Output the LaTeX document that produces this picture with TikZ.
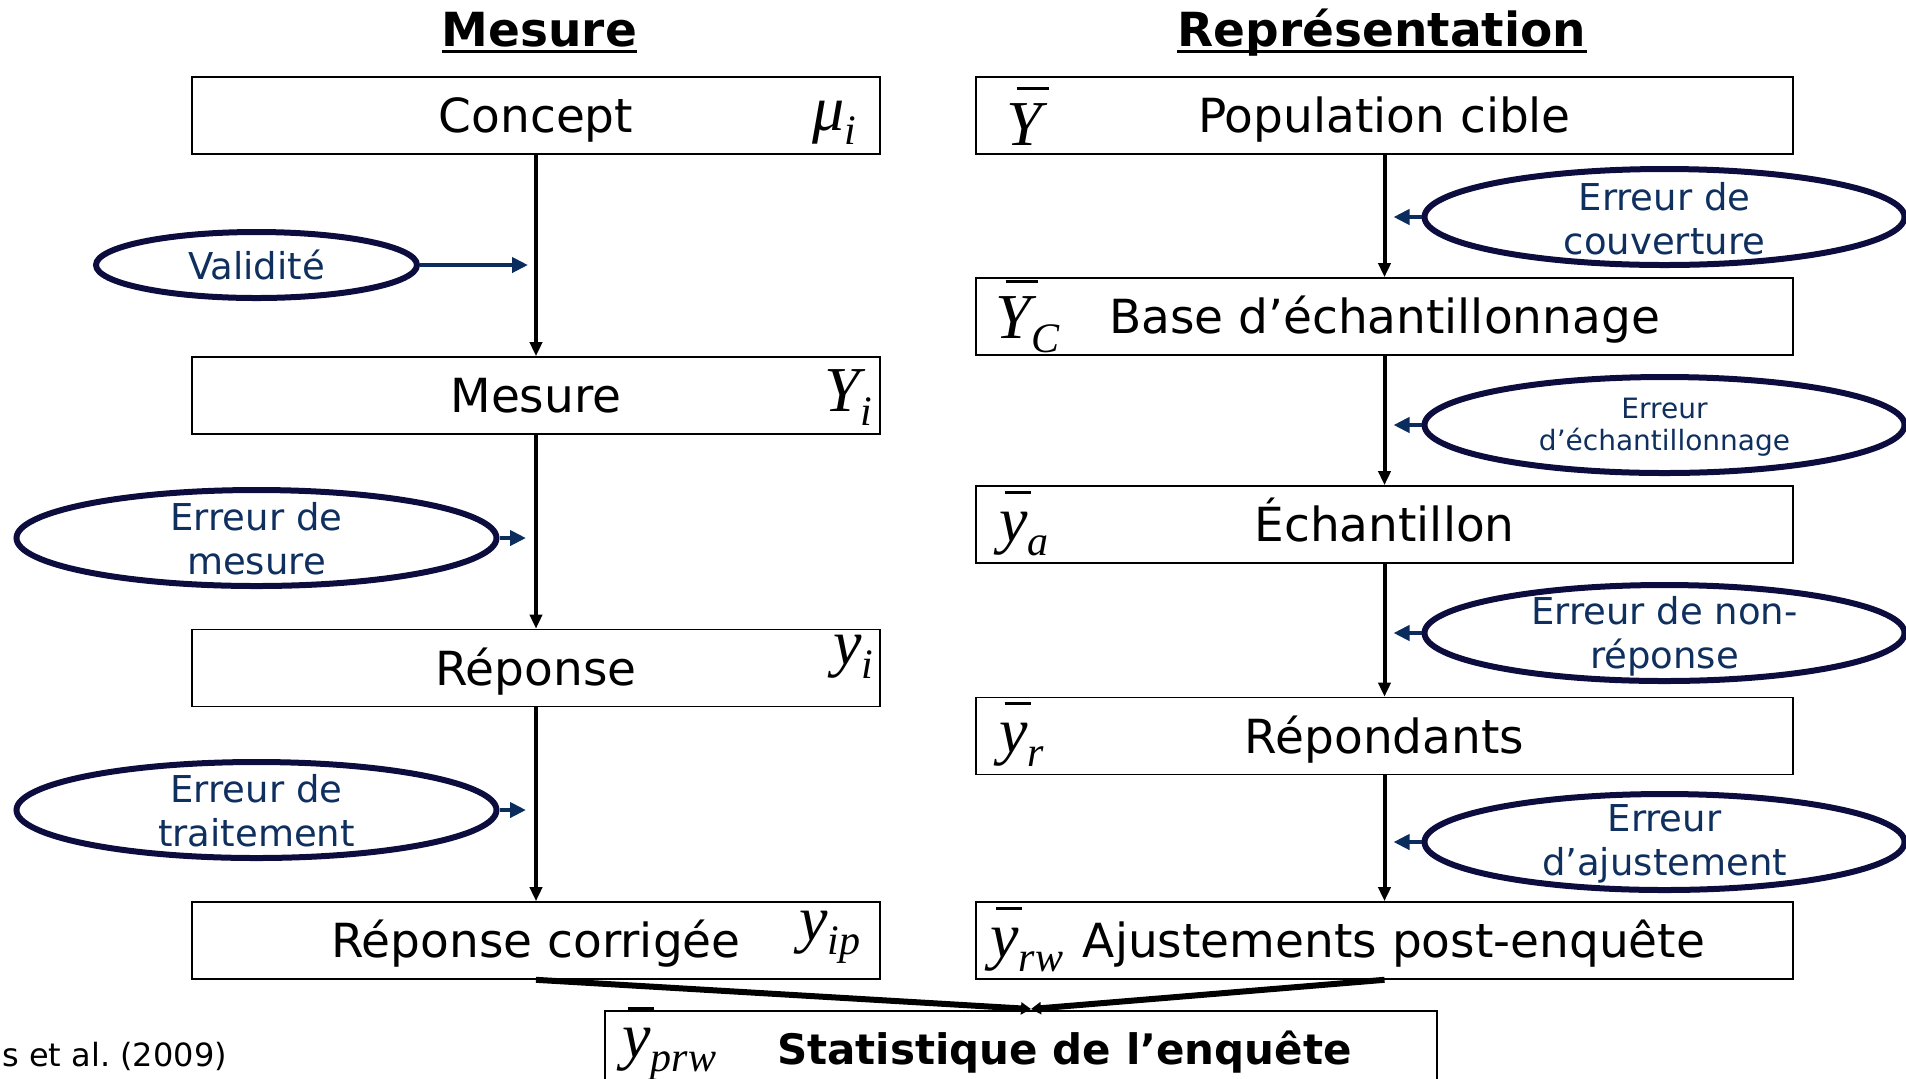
\documentclass[tikz,border=0pt]{standalone}
\usepackage{fontspec}
\setmainfont{DejaVu Sans}
\newfontfamily\symfont{Liberation Serif}
\usetikzlibrary{shapes.geometric,arrows.meta}

\definecolor{ellline}{HTML}{0C0C3E}
\definecolor{elltext}{HTML}{0F2F5F}
\definecolor{errarrow}{HTML}{0A2D5E}

% sizes for the statistical symbols
\newcommand\symsz{\fontsize{32}{32}\selectfont}
\newcommand\subsz{\fontsize{21}{21}\selectfont}
% italic letter followed by a lowered index
\newcommand\ix[2]{{\symfont\itshape\symsz #1\raisebox{-7pt}{\subsz #2}}}
% letters carrying a mean bar
\newcommand\ovY{\rlap{\kern0.16em\rule[0.86em]{0.5em}{0.045em}}Y}
\newcommand\ovy{\rlap{\kern0.08em\rule[0.74em]{0.42em}{0.045em}}y}

\begin{document}
\begin{tikzpicture}[x=0.5pt,y=-0.5pt,
  box/.style={draw=black, line width=0.8pt, minimum height=38.5pt, inner sep=0pt,
              text height=17.2pt, text depth=0pt,
              font=\fontsize{23.5}{28}\selectfont},
  lbox/.style={box, minimum width=344pt},
  rbox/.style={box, minimum width=408.5pt},
  plain/.style={inner sep=0pt, text height=17.2pt, text depth=0pt, font=\fontsize{23.5}{28}\selectfont},
  sym/.style={inner sep=0pt, anchor=base west},
  err/.style={ellipse, draw=ellline, line width=3pt, inner sep=0pt},
  bigerr/.style={err, minimum width=240pt, minimum height=48pt},
  errtxt/.style={text=elltext, align=center, inner sep=0pt, font=\fontsize{18.5}{22}\selectfont},
  flow/.style={line width=2pt, -{Triangle[length=7pt,width=6pt]}},
  push/.style={draw=errarrow, line width=2.2pt, -{Triangle[length=8pt,width=7.5pt]}},
  heading/.style={inner sep=0pt, anchor=base, font=\fontsize{23.5}{28}\selectfont\bfseries}]
\useasboundingbox (0,0) rectangle (1906,1078);

% column headings
\node[heading] (tmes) at (539.5,46) {Mesure};
\node[heading] (trep) at (1382,46) {Représentation};
\draw[line width=1.6pt] ([yshift=-2.8pt]tmes.base west) -- ([yshift=-2.8pt]tmes.base east);
\draw[line width=1.6pt] ([yshift=-2.8pt]trep.base west) -- ([yshift=-2.8pt]trep.base east);

% measurement column
\node[lbox] (concept) at (536,115.5) {Concept};
\node[lbox] (mesure)  at (536,395.5) {Mesure};
\node[lbox] (reponse) at (536,668)   {Réponse};
\node[lbox] (corr)    at (536,940.5) {Réponse corrigée};
\node[sym] (mu)  at (812,130) {\ix{μ}{i}};
\node[sym] (Yi)  at (824,411) {\ix{Y}{i}};
\node[sym] (yi)  at (833,664) {\ix{y}{i}};
\node[sym] (yip) at (799,940) {\ix{y}{ip}};

% representation column
\node[rbox] (pop)   at (1384.5,115.5) {Population cible};
\node[rbox] (base)  at (1384.5,316.5) {Base d’échantillonnage};
\node[rbox] (ech)   at (1384.5,524.5) {Échantillon};
\node[rbox] (resp)  at (1384.5,736)   {Répondants};
\node[rbox] (ajust) at (1384.5,940.5) {};
\node[plain] (ajusttxt) at (1394,940.5) {Ajustements post-enquête};
\node[sym] (Ybar) at (1006,145) {\ix{\ovY}{}};
\node[sym] (YC)   at (995,338)  {\ix{\ovY}{C}};
\node[sym] (ya)   at (999,541)  {\ix{\ovy}{a}};
\node[sym] (yr)   at (999,752)  {\ix{\ovy}{r}};
\node[sym] (yrw)  at (990,957)  {\ix{\ovy}{rw}};

% final statistic
\node[draw=black, line width=0.8pt, minimum width=416pt, minimum height=45pt, anchor=north, inner sep=0pt]
  (stat) at (1021,1010) {};
\node[inner sep=0pt, text height=15.4pt, text depth=0pt, font=\fontsize{21}{26}\selectfont\bfseries]
  (stattxt) at (1064.5,1049) {Statistique de l’enquête};
\node[sym] (yprw) at (622,1057) {\ix{\ovy}{prw}};
\coordinate (merge) at (1031,1009);

% source line
\node[inner sep=0pt, anchor=base west, font=\fontsize{16}{20}\selectfont\frenchspacing] (src) at (2,1066) {s et al. (2009)};

% main flow
\draw[flow] (concept) -- (mesure);
\draw[flow] (mesure) -- (reponse);
\draw[flow] (reponse) -- (corr);
\draw[flow] (pop) -- (base);
\draw[flow] (base) -- (ech);
\draw[flow] (ech) -- (resp);
\draw[flow] (resp) -- (ajust);
\draw[line width=3pt, -{Triangle[length=5pt,width=6pt]}] (corr.south) -- (merge);
\draw[line width=3pt, -{Triangle[length=5pt,width=6pt]}] (ajust.south) -- (merge);

% error sources, measurement side
\node[err, minimum width=160.5pt, minimum height=33pt] (valid) at (256.5,265) {};
\node[errtxt] (validtxt) at (256.5,265) {Validité};
\node[bigerr] (emes) at (256.5,538) {};
\node[errtxt] (emestxt) at (256.5,539) {Erreur de\\mesure};
\node[bigerr] (etrt) at (256.5,810) {};
\node[errtxt] (etrttxt) at (256.5,811) {Erreur de\\traitement};
\draw[push, shorten >=4pt] (valid.east) -- (valid.east -| concept.south);
\draw[push, shorten >=5pt] (emes.east) -- (emes.east -| concept.south);
\draw[push, shorten >=5pt] (etrt.east) -- (etrt.east -| concept.south);

% error sources, representation side
\node[bigerr] (ecov) at (1664.5,217) {};
\node[errtxt] (ecovtxt) at (1664.5,219) {Erreur de\\couverture};
\node[bigerr] (eech) at (1664.5,425) {};
\node[errtxt, font=\fontsize{14}{16}\selectfont] (eechtxt) at (1664.5,427) {Erreur\\d’échantillonnage};
\node[bigerr] (enr) at (1664.5,633) {};
\node[errtxt] (enrtxt) at (1664.5,636) {Erreur de non-\\réponse};
\node[bigerr] (eadj) at (1664.5,842) {};
\node[errtxt] (eadjtxt) at (1664.5,844) {Erreur\\d’ajustement};
\draw[push, shorten >=4.5pt] (ecov.west) -- (ecov.west -| pop.south);
\draw[push, shorten >=4.5pt] (eech.west) -- (eech.west -| pop.south);
\draw[push, shorten >=4.5pt] (enr.west) -- (enr.west -| pop.south);
\draw[push, shorten >=4.5pt] (eadj.west) -- (eadj.west -| pop.south);
\end{tikzpicture}
\end{document}
